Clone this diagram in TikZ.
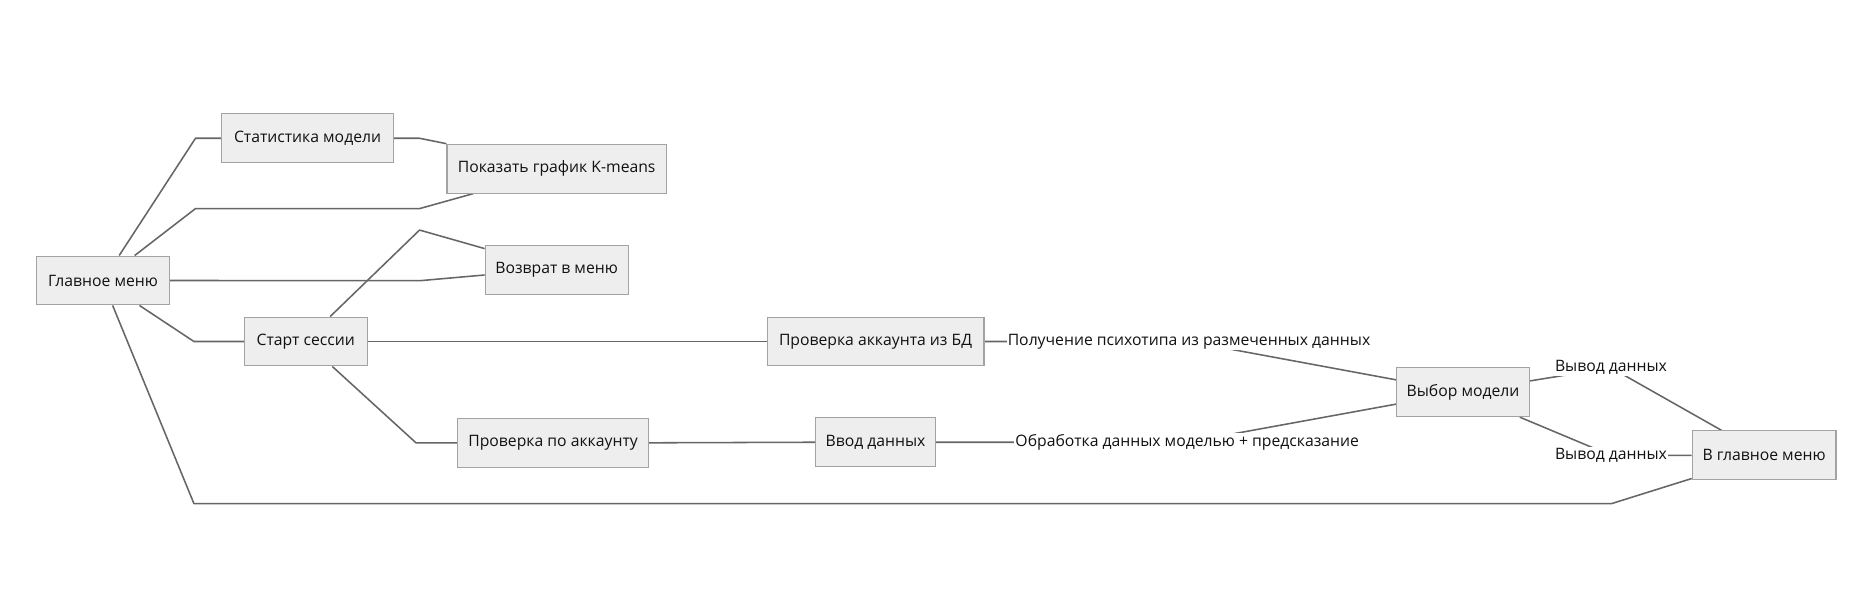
\documentclass[tikz,border=0pt]{standalone}
\usepackage{fontspec}
\setmainfont{Open Sans}
\usetikzlibrary{calc}
\pgfdeclarelayer{back}
\pgfdeclarelayer{bg}
\pgfsetlayers{back,bg,main}
\definecolor{nodefill}{HTML}{EEEEEE}
\definecolor{nodeline}{HTML}{A3A3A3}
\definecolor{edgecol}{HTML}{666666}
\definecolor{txt}{HTML}{111111}
\begin{document}
\begin{tikzpicture}[x=1pt,y=-1pt,
  box/.style={draw=nodeline, fill=nodefill, line width=0.9pt, minimum height=41pt,
    inner sep=0pt, text=txt, font=\fontsize{13.2}{16}\selectfont},
  elabel/.style={fill=white, inner sep=1pt, text=txt, font=\fontsize{13.2}{16}\selectfont},
  edge/.style={draw=edgecol, line width=1.3pt, line join=round}]
\begin{pgfonlayer}{back}
\fill[white] (0,0) rectangle (1568,515.1);
\end{pgfonlayer}
\useasboundingbox (0,0) rectangle (1568,515.1);
% nodes
\node[box, minimum width=111pt] (gm) at (86.5,235.3) {Главное меню};
\node[box, minimum width=144pt] (st) at (258,116) {Статистика модели};
\node[box, minimum width=184pt] (kg) at (467,141.5) {Показать график K-means};
\node[box, minimum width=120pt] (vm) at (467,226.5) {Возврат в меню};
\node[box, minimum width=103pt] (ss) at (256.5,286.5) {Старт сессии};
\node[box, minimum width=182pt] (pbd) at (734.5,286.5) {Проверка аккаунта из БД};
\node[box, minimum width=160pt] (pa) at (464,371.5) {Проверка по аккаунту};
\node[box, minimum width=100pt] (vd) at (734.5,371) {Ввод данных};
\node[box, minimum width=111pt] (vyb) at (1227.4,329) {Выбор модели};
\node[box, minimum width=120.6pt] (vgm) at (1480,382) {В главное меню};
% edge labels
\node[elabel] (l1) at (997.5,286.5) {Получение психотипа из размеченных данных};
\node[elabel] (l2) at (996,371) {Обработка данных моделью + предсказание};
\node[elabel] (l3) at (1351.5,308.5) {Вывод данных};
\node[elabel] (l4) at (1351.5,382) {Вывод данных};
% edges
\begin{pgfonlayer}{bg}
\draw[edge] ([xshift=13.5pt]gm.north) -- (164,116) -- (st.west);
\draw[edge] (st.east) -- (352,116) -- (kg.north west);
\draw[edge] ([xshift=26.5pt]gm.north) -- (164,175) -- (352,175) -- ([xshift=-70pt]kg.south);
\draw[edge] (gm.east) -- (352,235.5) -- ([yshift=-4.2pt]vm.west);
\draw[edge] ([xshift=20.5pt]ss.north) -- (352,193) -- ([yshift=-3pt]vm.north west);
\draw[edge] ([xshift=30.5pt]gm.south) -- (162.7,286.5) -- (ss.west);
\draw[edge] (ss.east) -- (pbd.west);
\draw[edge] ([xshift=22.3pt]ss.south) -- (349,371.5) -- (pa.west);
\draw[edge] (pa.east) -- (vd.west);
\draw[edge] (pbd.east) -- (l1.center) -- ([yshift=10.3pt]vyb.west);
\draw[edge] (vd.east) -- (l2.center) -- ([yshift=-10pt]vyb.west);
\draw[edge] ([yshift=9.4pt]vyb.east) -- (l3.center) -- ([xshift=-35.7pt]vgm.north);
\draw[edge] ([xshift=47.6pt]vyb.south) -- (l4.center) -- (vgm.west);
\draw[edge] ([xshift=8pt]gm.south) -- (162.7,422.5) -- (1352,422.5) -- ([yshift=1.5pt]vgm.south west);
\end{pgfonlayer}
\end{tikzpicture}
\end{document}
